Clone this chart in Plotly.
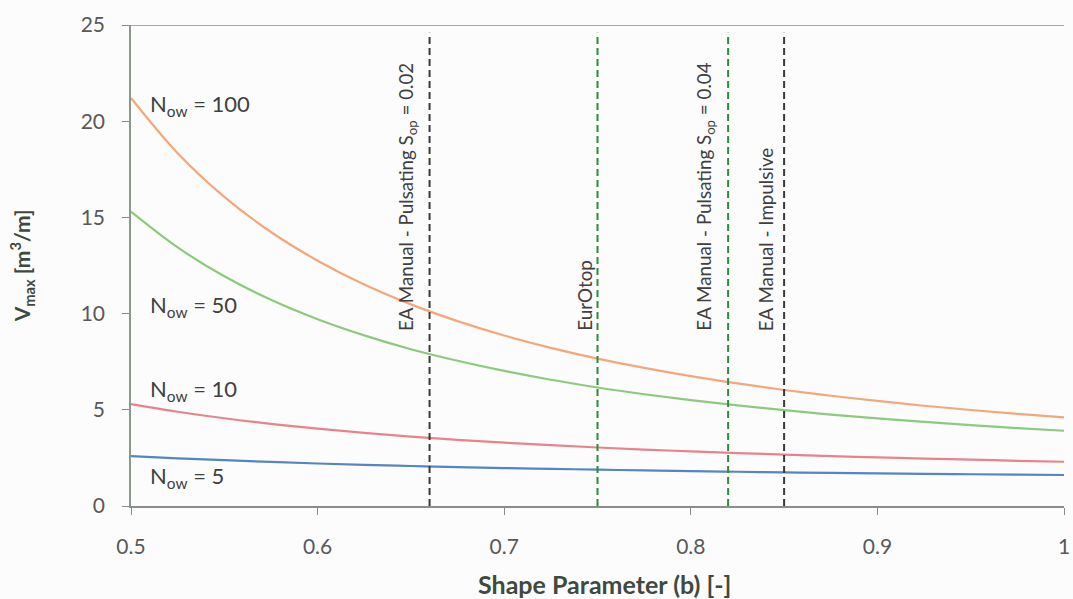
import plotly.graph_objects as go

# Shape parameter b (x) and maximum overtopping volume V_max (m3/m) for each N_ow
shape_b = [0.500, 0.525, 0.550, 0.575, 0.600, 0.625, 0.650, 0.675, 0.700, 0.725, 0.750,
           0.775, 0.800, 0.825, 0.850, 0.875, 0.900, 0.925, 0.950, 0.975, 1.000]
v_now_100 = [21.21, 18.34, 16.07, 14.24, 12.75, 11.51, 10.48, 9.61, 8.86, 8.22, 7.66,
             7.18, 6.75, 6.37, 6.03, 5.73, 5.46, 5.21, 4.99, 4.79, 4.61]
v_now_50 = [15.30, 13.44, 11.94, 10.72, 9.71, 8.87, 8.15, 7.55, 7.02, 6.56, 6.16,
            5.81, 5.50, 5.23, 4.98, 4.75, 4.55, 4.37, 4.20, 4.05, 3.91]
v_now_10 = [5.30, 4.90, 4.56, 4.27, 4.02, 3.80, 3.61, 3.44, 3.29, 3.16, 3.04,
            2.93, 2.84, 2.75, 2.67, 2.59, 2.53, 2.46, 2.41, 2.35, 2.30]
v_now_5 = [2.59, 2.48, 2.38, 2.29, 2.21, 2.14, 2.08, 2.02, 1.97, 1.93, 1.89,
           1.85, 1.81, 1.78, 1.75, 1.72, 1.70, 1.67, 1.65, 1.63, 1.61]

series_names = ["N<sub>ow</sub> = 100", "N<sub>ow</sub> = 50", "N<sub>ow</sub> = 10", "N<sub>ow</sub> = 5"]
series_values = [v_now_100, v_now_50, v_now_10, v_now_5]
series_colors = ["#F4A77C", "#8DC97F", "#E8838C", "#5585C2"]
label_y = [20.85, 10.4, 6.05, 1.5]

# Reference shape-parameter values from guidance documents
ref_b = [0.66, 0.75, 0.82, 0.85]
ref_labels = [
    "EA Manual - Pulsating S<sub>op</sub> = 0.02",
    "EurOtop",
    "EA Manual - Pulsating S<sub>op</sub> = 0.04",
    "EA Manual - Impulsive",
]
ref_colors = ["#3A3A3A", "#2E8B3A", "#2E8B3A", "#3A3A3A"]
ref_label_x = [0.648, 0.743, 0.8075, 0.840]

font_family = "Lato, 'Open Sans', sans-serif"
text_color = "#404040"
title_color = "#3F4A3F"

fig = go.Figure()

for name, vals, col in zip(series_names, series_values, series_colors):
    fig.add_trace(go.Scatter(
        x=shape_b, y=vals, mode="lines", name=name,
        line=dict(color=col, width=2.2, shape="spline", smoothing=1.0),
        showlegend=False,
    ))

annotations = []
for name, ly in zip(series_names, label_y):
    annotations.append(dict(
        x=0.509, y=ly, xref="x", yref="y", text=name, showarrow=False,
        xanchor="left", yanchor="middle",
        font=dict(family=font_family, size=22, color=text_color),
    ))

shapes = []
for bx, col in zip(ref_b, ref_colors):
    shapes.append(dict(
        type="line", xref="x", yref="y", x0=bx, x1=bx, y0=0, y1=24.6,
        line=dict(color=col, width=2, dash="7px,4px"),
    ))
for lx, txt in zip(ref_label_x, ref_labels):
    annotations.append(dict(
        x=lx, y=9.0, xref="x", yref="y", text=txt, showarrow=False,
        textangle=-90, xanchor="center", yanchor="bottom",
        font=dict(family=font_family, size=18.8, color=text_color),
    ))

# Axis titles
annotations.append(dict(
    x=0.507, y=-0.162, xref="paper", yref="paper", showarrow=False,
    text="<b>Shape Parameter (b) [-]</b>", xanchor="center", yanchor="middle",
    font=dict(family=font_family, size=25, color=title_color),
))
annotations.append(dict(
    x=-0.117, y=0.50, xref="paper", yref="paper", showarrow=False,
    text="<b>V<sub>max</sub> [m<sup>3</sup>/m]</b>", textangle=-90,
    xanchor="center", yanchor="middle",
    font=dict(family=font_family, size=21, color=title_color),
))

# Top border of the plot area
shapes.append(dict(
    type="line", xref="x", yref="y", x0=0.5, x1=1.0, y0=25, y1=25,
    line=dict(color="#8C8C8C", width=1.5),
))

fig.update_layout(
    width=1073, height=599,
    margin=dict(l=131, r=9, t=25, b=93, autoexpand=False),
    paper_bgcolor="#FCFCFC", plot_bgcolor="#FCFCFC",
    shapes=shapes, annotations=annotations,
    font=dict(family=font_family, color="#595959"),
)

fig.update_xaxes(
    range=[0.5, 1.0], tickvals=[0.5, 0.6, 0.7, 0.8, 0.9, 1.0],
    ticktext=["0.5", "0.6", "0.7", "0.8", "0.9", "1"],
    showgrid=False, zeroline=False, automargin=False,
    showline=True, linecolor="#8C8C8C", linewidth=1.5,
    ticks="outside", ticklen=7, tickcolor="#8C8C8C",
    ticklabelstandoff=14,
    tickfont=dict(size=21, color="#595959"),
)
fig.update_yaxes(
    range=[0, 25], tickvals=[0, 5, 10, 15, 20, 25],
    showgrid=False, zeroline=False, automargin=False,
    showline=True, linecolor="#8A9A8A", linewidth=1.5,
    ticks="outside", ticklen=7, tickcolor="#8C8C8C",
    ticklabelstandoff=13,
    tickfont=dict(size=21, color="#595959"),
)

fig.write_html("out.html")
